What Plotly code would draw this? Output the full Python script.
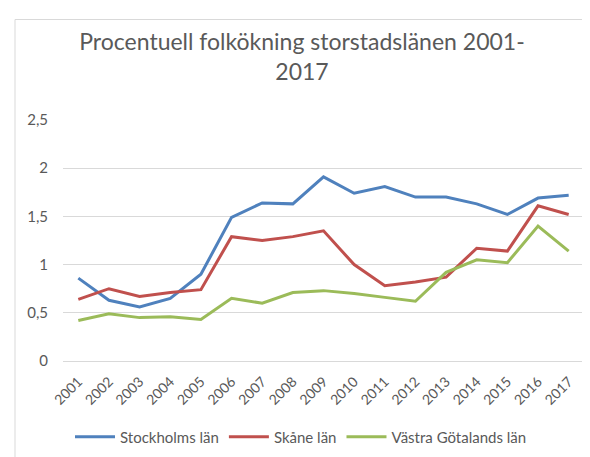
import plotly.graph_objects as go

years = [str(y) for y in range(2001, 2018)]
stockholm = [0.86, 0.63, 0.56, 0.65, 0.90, 1.49, 1.64, 1.63, 1.91, 1.74, 1.81, 1.70, 1.70, 1.63, 1.52, 1.69, 1.72]
skane = [0.64, 0.75, 0.67, 0.71, 0.74, 1.29, 1.25, 1.29, 1.35, 1.00, 0.78, 0.82, 0.87, 1.17, 1.14, 1.61, 1.52]
vastra = [0.42, 0.49, 0.45, 0.46, 0.43, 0.65, 0.60, 0.71, 0.73, 0.70, 0.66, 0.62, 0.92, 1.05, 1.02, 1.40, 1.14]
series_names = ["Stockholms län", "Skåne län", "Västra Götalands län"]
y_ticks = [0, 0.5, 1, 1.5, 2, 2.5]
y_tick_labels = ["0", "0,5", "1", "1,5", "2", "2,5"]
title_text = "Procentuell folkökning storstadslänen 2001-<br>2017"

colors = ["#4F81BD", "#C0504D", "#9BBB59"]
FONT = "Lato"
TXT = "#595959"

fig = go.Figure()
for name, vals, col in zip(series_names, [stockholm, skane, vastra], colors):
    fig.add_trace(go.Scatter(x=years, y=vals, mode="lines", name=name,
                             line=dict(color=col, width=3)))

W, H = 590, 457
L, R, T, B = 55, 14, 112, 98
pw = W - L - R
ph = H - T - B

def px_x(p):
    return (p - L) / pw

def px_y(p):
    return (H - B - p) / ph

fig.update_layout(
    width=W, height=H,
    margin=dict(l=L, r=R, t=T, b=B),
    paper_bgcolor="white", plot_bgcolor="white",
    font=dict(family=FONT, color=TXT, size=14),
    title=dict(text=title_text, x=294 / W, xanchor="center",
               y=1 - 42 / H, yanchor="top",
               font=dict(family=FONT, size=23, color=TXT)),
    xaxis=dict(type="category", range=[-0.5, len(years) - 0.5], tickangle=-45,
               showgrid=False, showline=False,
               ticks="outside", ticklen=6, tickcolor="rgba(0,0,0,0)",
               tickfont=dict(size=14, color=TXT)),
    yaxis=dict(range=[0, 2.5], tickvals=y_ticks, ticktext=y_tick_labels,
               showgrid=True, gridcolor="#D9D9D9", gridwidth=1,
               zeroline=True, zerolinecolor="#D9D9D9", zerolinewidth=1,
               showline=False, ticks="outside", ticklen=11,
               tickcolor="rgba(0,0,0,0)",
               tickfont=dict(size=15, color=TXT)),
    legend=dict(orientation="h", x=px_x(293), xanchor="center",
                y=px_y(437), yanchor="middle",
                font=dict(size=15, color=TXT), itemwidth=40),
    showlegend=True,
    shapes=[dict(type="rect", xref="paper", yref="paper",
                 x0=px_x(7), x1=px_x(620), y0=px_y(500), y1=px_y(9),
                 line=dict(color="#D9D9D9", width=1), fillcolor="rgba(0,0,0,0)",
                 layer="below")],
)

fig.write_html("out.html")
